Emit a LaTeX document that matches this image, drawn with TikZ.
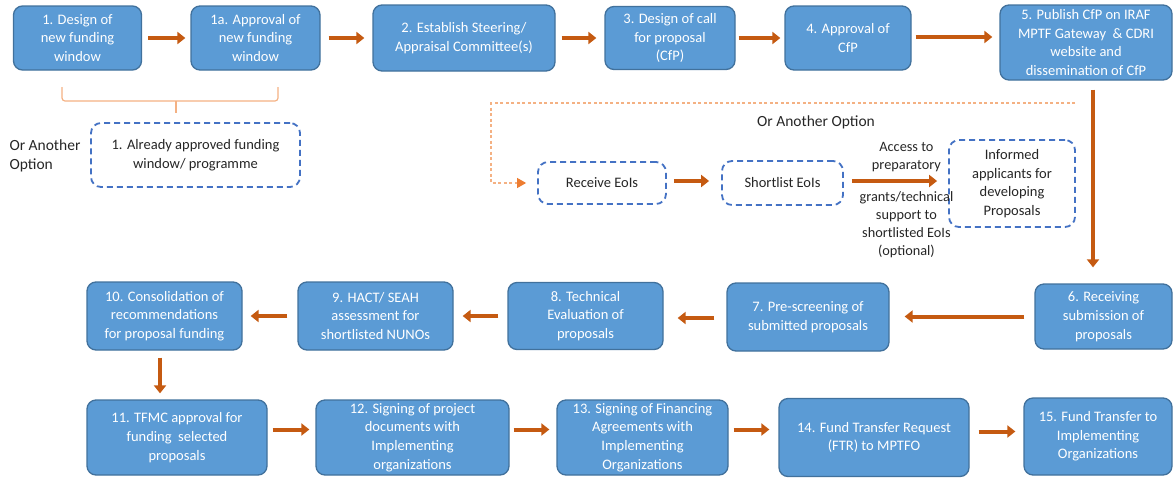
\documentclass[tikz,border=0pt]{standalone}
\usepackage{fontspec}
\setmainfont{Carlito}
\usepackage{tikz}
\usetikzlibrary{arrows.meta,calc,positioning}
\definecolor{boxblue}{RGB}{91,155,213}
\definecolor{boxline}{RGB}{65,113,156}
\definecolor{flowcol}{RGB}{197,90,17}
\definecolor{optblue}{RGB}{68,114,196}
\definecolor{lightorange}{RGB}{244,177,131}
\definecolor{midorange}{RGB}{237,125,49}
\tikzset{%
	process/.style   = {draw=boxline, fill=boxblue, line width=1.3pt, rounded corners=9pt, text=white, align=center, inner sep=2pt, font=\fontsize{14.5}{18.7}\selectfont},
	option/.style    = {draw=optblue, fill=white, line width=1.8pt, dash pattern=on 6pt off 4pt, rounded corners=10pt, align=center, text=black!85, font=\fontsize{14.5}{18.7}\selectfont},
	note/.style      = {align=center, text=black!85, font=\fontsize{15.5}{19}\selectfont},
	arrowlabel/.style= {align=center, text=black!85, font=\fontsize{14.3}{18.2}\selectfont},
	arrow/.style     = {draw=flowcol, line width=4pt, -{Triangle[length=8pt,width=12pt]}, shorten <=6pt, shorten >=6pt},
	dasharrow/.style = {draw=lightorange, line width=1.1pt, dash pattern=on 3pt off 2.5pt, -{Triangle[length=9pt,width=10pt,color=midorange,fill=midorange]}},
	bracket/.style   = {draw=lightorange, line width=1.2pt, rounded corners=3pt},
}

\begin{document}
\begin{tikzpicture}[x=1pt, y=-1pt]
	\useasboundingbox (0,0) rectangle (1174,477);

	\node[process, minimum width=128pt, minimum height=64pt] (b1)  at (77.5,38)  {1. Design of\\new funding\\window};
	\node[process, minimum width=129pt, minimum height=64pt] (b1a) at (255.5,38) {1a. Approval of\\new funding\\window};
	\node[process, minimum width=182pt, minimum height=66pt] (b2)  at (464,38)   {2. Establish Steering/\\Appraisal Committee(s)};
	\node[process, minimum width=130pt, minimum height=63pt] (b3)  at (670,38)   {3. Design of call\\for proposal\\(CfP)};
	\node[process, minimum width=126pt, minimum height=64pt] (b4)  at (848,38)   {4. Approval of\\CfP};
	\node[process, minimum width=172pt, minimum height=75pt] (b5)  at (1086,42.5) {5. Publish CfP on IRAF\\MPTF Gateway~ \& CDRI\\website and\\dissemination of CfP};

	\draw[arrow, shorten >=5pt] (b1.east) -- (b1.east -| b1a.west);
	\draw[arrow, shorten <=8pt, shorten >=8pt] (b1a.east) -- (b1a.east -| b2.west);
	\draw[arrow, shorten >=8pt] (b2.east) -- (b2.east -| b3.west);
	\draw[arrow, shorten <=3pt, shorten >=4pt] (b3.east) -- (b3.east -| b4.west);
	\draw[arrow, shorten <=4pt, shorten >=7pt] ([yshift=1pt]b4.east) -- ([yshift=1pt]b4.east -| b5.west);

	\coordinate (brL) at (62,87);
	\coordinate (brR) at (278,87);
	\coordinate (brTip) at (176,113);
	\draw[bracket] (brL) -- (brL |- 0,101) -- (brR |- 0,101) -- (brR);
	\draw[bracket] (brTip |- 0,101) -- (brTip);
	\node[option, minimum width=209pt, minimum height=64pt] (alt) at (195.5,155) {1. Already approved funding\\window/ programme};
	\node[note, align=left, anchor=west] (orlab) at (6,156) {Or Another\\Option};

	\node[note] (orlab2) at (816,122) {Or Another Option};
	\node[option, minimum width=128pt, minimum height=42pt] (rec)   at (602,183)    {Receive EoIs};
	\node[option, minimum width=121pt, minimum height=44pt] (short) at (782.5,183)  {Shortlist EoIs};
	\node[option, minimum width=126pt, minimum height=87pt] (inf)   at (1012,183.5) {Informed\\applicants for\\developing\\Proposals};

	\coordinate (dashR) at (1075,103);
	\coordinate (turn) at (491,103);
	\draw[dasharrow, shorten >=11pt] (dashR) -- (turn) |- (rec.west);
	\draw[arrow, shorten <=7pt, shorten >=12pt] ([yshift=2pt]rec.east) -- ([yshift=2pt]rec.east -| short.west);
	\draw[arrow, shorten <=8pt, shorten >=11pt] ([yshift=2pt]short.east) -- ([yshift=2pt]short.east -| inf.west)
		node[arrowlabel, pos=0.6, above, yshift=4pt] {Access to\\preparatory}
		node[arrowlabel, pos=0.6, below, yshift=-5pt] {grants/technical\\support to\\shortlisted EoIs\\(optional)};

	\node[process, minimum width=137pt, minimum height=65pt] (b6)  at (1103.5,316.5) {6. Receiving\\submission of\\proposals};
	\node[process, minimum width=162pt, minimum height=68pt] (b7)  at (808,317)      {7. Pre-screening of\\submitted proposals};
	\node[process, minimum width=155pt, minimum height=67pt] (b8)  at (585.5,316)    {8. Technical\\Evaluation of\\proposals};
	\node[process, minimum width=155pt, minimum height=68pt] (b9)  at (375.5,316)    {9. HACT/ SEAH\\assessment for\\shortlisted NUNOs};
	\node[process, minimum width=155pt, minimum height=68pt] (b10) at (164.5,316)    {10. Consolidation of\\recommendations\\for proposal funding};

	\coordinate (drop) at (1093,0);
	\draw[arrow, shorten <=9pt, shorten >=16pt] (b5.south -| drop) -- (b6.north -| drop);
	\draw[arrow, shorten <=10pt, shorten >=15pt] (b6.west) -- (b6.west -| b7.east);
	\draw[arrow, shorten <=12pt, shorten >=14pt] ([yshift=-1pt]b7.west) -- ([yshift=-1pt]b7.west -| b8.east);
	\draw[arrow, shorten <=9pt, shorten >=9pt] (b8.west) -- (b8.west -| b9.east);
	\draw[arrow, shorten <=10pt, shorten >=8pt] (b9.west) -- (b9.west -| b10.east);

	\node[process, minimum width=180pt, minimum height=75pt] (b11) at (177,437.5)   {11. TFMC approval for\\funding~ selected\\proposals};
	\node[process, minimum width=193pt, minimum height=75pt] (b12) at (412.5,437.5) {12. Signing of project\\documents with\\Implementing\\organizations};
	\node[process, minimum width=171pt, minimum height=75pt] (b13) at (642.5,437.5) {13. Signing of Financing\\Agreements with\\Implementing\\Organizations};
	\node[process, minimum width=190pt, minimum height=78pt] (b14) at (874,437.5)   {14. Fund Transfer Request\\(FTR) to MPTFO};
	\node[process, minimum width=148pt, minimum height=77pt] (b15) at (1098,436.5)  {15. Fund Transfer to\\Implementing\\Organizations};

	\coordinate (down) at (160,0);
	\draw[arrow, shorten <=7pt] (b10.south -| down) -- (b11.north -| down);
	\draw[arrow, shorten <=5pt] ([yshift=8pt]b11.east) -- ([yshift=8pt]b11.east -| b12.west);
	\draw[arrow, shorten <=4pt, shorten >=7pt] ([yshift=8pt]b12.east) -- ([yshift=8pt]b12.east -| b13.west);
	\draw[arrow, shorten <=5pt, shorten >=9pt] ([yshift=8pt]b13.east) -- ([yshift=8pt]b13.east -| b14.west);
	\draw[arrow, shorten <=9pt, shorten >=8pt] ([yshift=6pt]b14.east) -- ([yshift=6pt]b14.east -| b15.west);
\end{tikzpicture}
\end{document}
